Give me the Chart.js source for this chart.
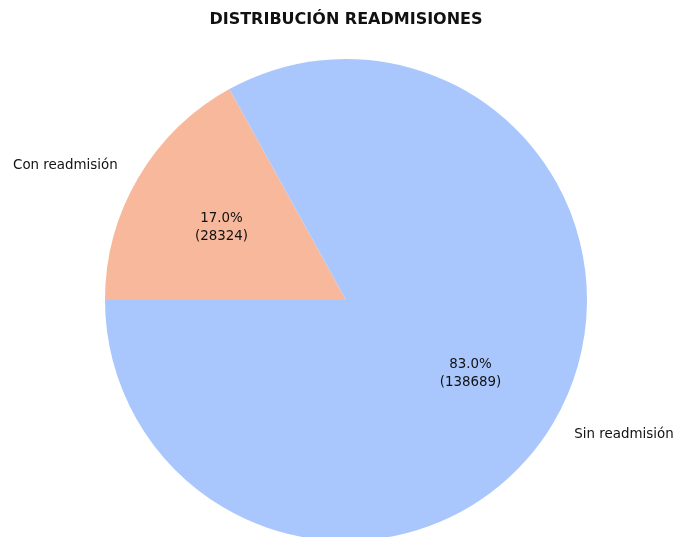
<!DOCTYPE html>
<html>
<head>
<meta charset="utf-8">
<script src="https://cdn.jsdelivr.net/npm/chart.js@4/dist/chart.umd.min.js"></script>
<style>
  html, body { margin: 0; padding: 0; background: #ffffff; overflow: hidden; }
  #wrap { width: 673px; height: 537px; overflow: hidden; position: relative; }
  canvas { display: block; }
</style>
</head>
<body>
<div id="wrap"><canvas id="chart" width="673" height="600"></canvas></div>
<script>
// Readmission split
const categories = ['Con readmisión', 'Sin readmisión'];
const counts = [28324, 138689];
const sliceColors = ['#f7b89c', '#aac7fd'];
const chartTitle = 'DISTRIBUCIÓN READMISIONES';

const FONT = '"DejaVu Sans", sans-serif';
const total = counts.reduce((a, b) => a + b, 0);

// Draws the title, the outer category labels and the inner percentage/count labels
const pieLabels = {
  id: 'pieLabels',
  afterDatasetsDraw(chart) {
    const ctx = chart.ctx;
    const meta = chart.getDatasetMeta(0);
    ctx.save();
    ctx.fillStyle = '#111111';
    ctx.font = 'bold 16px ' + FONT;
    ctx.textAlign = 'center';
    ctx.textBaseline = 'middle';
    ctx.fillText(chartTitle, 346, 20);

    meta.data.forEach((arc, i) => {
      const p = arc.getProps(['x', 'y', 'startAngle', 'endAngle', 'outerRadius'], true);
      const mid = (p.startAngle + p.endAngle) / 2;
      const cx = Math.cos(mid), cy = Math.sin(mid);

      // inner label at 0.6 of radius
      const ix = p.x + cx * p.outerRadius * 0.6;
      const iy = p.y + cy * p.outerRadius * 0.6;
      ctx.font = '13.4px ' + FONT;
      ctx.textAlign = 'center';
      ctx.textBaseline = 'middle';
      const pct = (counts[i] / total * 100).toFixed(1) + '%';
      ctx.fillText(pct, ix, iy - 8.5);
      ctx.fillText('(' + counts[i] + ')', ix, iy + 9.5);

      // outer category label at 1.1 of radius
      const ox = p.x + cx * p.outerRadius * 1.1;
      const oy = p.y + cy * p.outerRadius * 1.1;
      ctx.textAlign = cx < 0 ? 'right' : 'left';
      ctx.fillText(categories[i], ox, oy);
    });
    ctx.restore();
  }
};

new Chart(document.getElementById('chart'), {
  type: 'pie',
  data: {
    labels: categories,
    datasets: [{
      data: counts,
      backgroundColor: sliceColors,
      borderWidth: 0,
      hoverOffset: 0,
      offset: 0
    }]
  },
  options: {
    responsive: false,
    animation: false,
    rotation: -90,
    layout: { padding: { left: 105, right: 86, top: 59, bottom: 59 } },
    plugins: {
      legend: { display: false },
      tooltip: { enabled: false },
      title: { display: false }
    }
  },
  plugins: [pieLabels]
});
</script>
</body>
</html>
